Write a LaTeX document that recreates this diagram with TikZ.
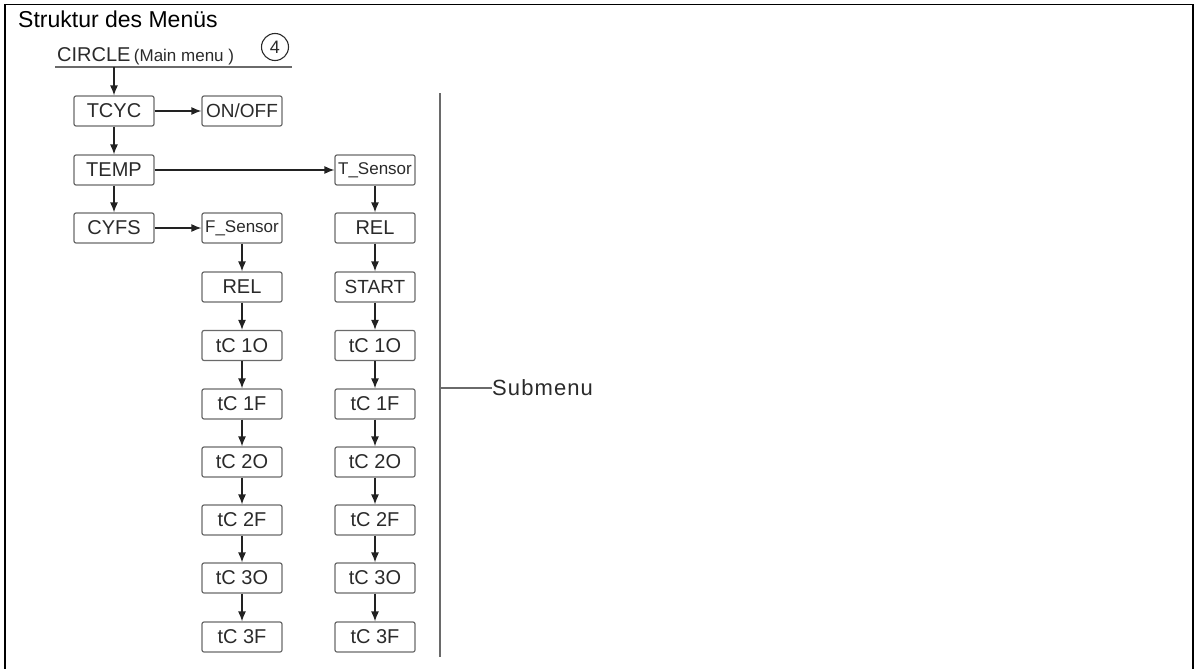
\documentclass[tikz,border=0pt]{standalone}
\usepackage{fontspec}
\setmainfont{Liberation Sans}
\usetikzlibrary{arrows.meta}
\definecolor{boxc}{HTML}{6A6A6A}
\definecolor{txt}{HTML}{2A2A2A}
\definecolor{arrc}{HTML}{222222}
\newcommand{\fs}[1]{\fontsize{#1}{#1}\selectfont}
\begin{document}
\begin{tikzpicture}[x=1pt,y=-1pt,
  mbox/.style={draw=boxc, line width=1.2pt, rounded corners=2pt, minimum width=80pt,
    minimum height=30pt, inner sep=0pt, text=txt, font=\fs{20}},
  arr/.style={draw=arrc, line width=1.3pt, -{Latex[length=10pt,width=8pt]}},
  gline/.style={draw=boxc, line width=1.4pt},
]
\useasboundingbox (0,0) rectangle (1197,669);
% frame
\draw[line width=1.6pt] (5,675) -- (5,4.5) -- (1193,4.5) -- (1193,675);
% title
\node[anchor=base west, inner sep=0pt, font=\fs{23}] (title) at (18,28) {Struktur des Menüs};
% main menu header
\node[anchor=base west, inner sep=0pt, text=txt, font=\fs{20}] (circ) at (57,62) {CIRCLE};
\node[anchor=base west, inner sep=0pt, text=txt, font=\fs{17}] (mm) at ([xshift=3pt]circ.base east) {(Main menu )};
\node[circle, draw=txt, line width=1.1pt, minimum size=27pt, inner sep=0pt, text=txt, font=\fs{18}] (four) at (275,47) {4};
\coordinate (ul1) at (55,67);
\coordinate (ul2) at (292,67);
\coordinate (ulA) at (114,67);
\draw[gline] (ul1) -- (ul2);
% column A
\node[mbox] (tcyc) at (114,111) {TCYC};
\node[mbox] (temp) at (114,170) {TEMP};
\node[mbox] (cyfs) at (114,228) {CYFS};
\node[mbox, font=\fs{19}] (onoff) at (242,111) {ON/OFF};
\node[mbox, font=\fs{17}] (fsens) at (242,228) {F\_Sensor};
\node[mbox, font=\fs{17}] (tsens) at (375,170) {T\_Sensor};
\node[mbox] (relC) at (375,228) {REL};
\node[mbox] (relB) at (242,287) {REL};
\node[mbox, font=\fs{19}] (start) at (375,287) {START};
\foreach \n/\t/\y in {1/tC 1O/345.5, 2/tC 1F/404, 3/tC 2O/462, 4/tC 2F/520, 5/tC 3O/578, 6/tC 3F/637}{
  \node[mbox] (b\n) at (242,\y) {\t};
  \node[mbox] (c\n) at (375,\y) {\t};
}
% arrows
\draw[arr] (ulA) -- (tcyc);
\draw[arr] (tcyc) -- (temp);
\draw[arr] (temp) -- (cyfs);
\draw[arr] (tcyc) -- (onoff);
\draw[arr] (temp) -- (tsens);
\draw[arr] (cyfs) -- (fsens);
\draw[arr] (tsens) -- (relC);
\draw[arr] (relC) -- (start);
\draw[arr] (fsens) -- (relB);
\draw[arr] (relB) -- (b1);
\draw[arr] (start) -- (c1);
\foreach \a/\b in {1/2,2/3,3/4,4/5,5/6}{
  \draw[arr] (b\a) -- (b\b);
  \draw[arr] (c\a) -- (c\b);
}
% submenu bracket
\coordinate (vt) at (440,93);
\coordinate (vb) at (440,657);
\coordinate (vm) at (440,388);
\draw[gline] (vt) -- (vb);
\node[anchor=west, inner sep=0pt, text=txt, font=\fs{22}\addfontfeature{LetterSpace=5}] (sub) at (492,388) {Submenu};
\draw[gline] (vm) -- (sub.west);
\end{tikzpicture}
\end{document}
